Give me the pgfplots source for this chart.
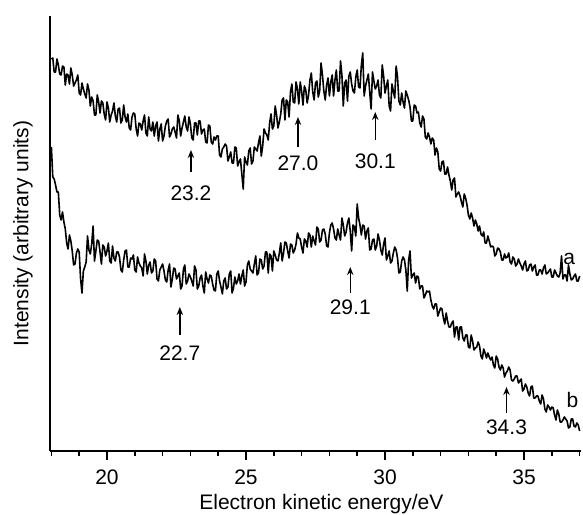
\documentclass[border=0pt]{standalone}
\usepackage{fontspec}
\setmainfont{Liberation Sans}
\usepackage{pgfplots}
\pgfplotsset{compat=1.18}
\usetikzlibrary{arrows.meta}
\newcommand\lab{\fontsize{10.5}{12.6}\selectfont}
\begin{document}
\begin{tikzpicture}
\useasboundingbox (-25pt,-31.5pt) rectangle (266.5pt,225.5pt);
\begin{axis}[name=ax, at={(0pt,0pt)}, anchor=south west,
  scale only axis, width=265.5pt, height=217.5pt,
  xmin=17.95, xmax=37.05, ymin=0, ymax=435,
  axis x line=bottom, axis y line=left,
  axis line style={-, line width=1pt},
  ytick=\empty, xtick={20,25,30,35}, minor xtick={18,19,...,37},
  tick align=outside, major tick length=4.5pt, minor tick length=2.5pt,
  tick style={line width=0.8pt, black},
  /pgf/number format/assume math mode=true,
  tick label style={font=\lab},
  xticklabel style={anchor=center, yshift=-8.75pt},
  xlabel={Electron kinetic energy/eV},
  ylabel={Intensity (arbitrary units)},
  xlabel style={font=\lab, at={(axis description cs:0.511,-0.1215)}, anchor=center},
  ylabel style={font=\lab, at={(axis description cs:-0.0508,0.5)}, anchor=center},
  clip=false]
\addplot[black, line width=0.8pt, line join=round] coordinates {
(18.0,392)(18.05,393)(18.1,379)(18.15,379)(18.2,392)(18.25,386)(18.3,377)(18.35,376)(18.4,385)(18.45,384)(18.5,366)(18.55,377)(18.6,376)(18.65,367)(18.7,383)(18.75,376)(18.8,365)(18.85,368)(18.9,371)(18.95,376)
(19.0,358)(19.05,356)(19.1,368)(19.15,362)(19.2,357)(19.25,353)(19.3,367)(19.35,361)(19.4,345)(19.45,354)(19.5,350)(19.55,336)(19.6,336)(19.65,356)(19.7,349)(19.75,338)(19.8,350)(19.85,348)(19.9,337)(19.95,331)
(20.0,349)(20.05,343)(20.1,329)(20.15,336)(20.2,340)(20.25,348)(20.3,335)(20.35,329)(20.4,342)(20.45,343)(20.5,328)(20.55,331)(20.6,346)(20.65,334)(20.7,329)(20.75,337)(20.8,323)(20.85,321)(20.9,334)(20.95,338)
(21.0,337)(21.05,322)(21.1,315)(21.15,328)(21.2,327)(21.25,321)(21.3,330)(21.35,336)(21.4,318)(21.45,315)(21.5,334)(21.55,322)(21.6,320)(21.65,329)(21.7,315)(21.75,325)(21.8,329)(21.85,310)(21.9,322)(21.95,327)
(22.0,310)(22.05,315)(22.1,325)(22.15,330)(22.2,332)(22.25,314)(22.3,317)(22.35,322)(22.4,324)(22.45,319)(22.5,313)(22.55,336)(22.6,330)(22.65,315)(22.7,323)(22.75,329)(22.8,335)(22.85,324)(22.9,320)(22.95,334)
(23.0,327)(23.05,313)(23.1,311)(23.15,328)(23.2,328)(23.25,316)(23.3,330)(23.35,330)(23.4,317)(23.45,321)(23.5,322)(23.55,309)(23.6,308)(23.65,326)(23.7,325)(23.75,309)(23.8,307)(23.85,314)(23.9,311)(23.95,315)
(24.0,315)(24.05,296)(24.1,294)(24.15,302)(24.2,304)(24.25,307)(24.3,305)(24.35,290)(24.4,294)(24.45,299)(24.5,288)(24.55,288)(24.6,304)(24.65,303)(24.7,285)(24.75,289)(24.8,292)(24.85,277)(24.9,262)(24.95,294)
(25.0,289)(25.05,286)(25.1,300)(25.15,303)(25.2,287)(25.25,290)(25.3,304)(25.35,302)(25.4,300)(25.45,308)(25.5,315)(25.55,295)(25.6,305)(25.65,322)(25.7,318)(25.75,316)(25.8,311)(25.85,328)(25.9,337)(25.95,322)
(26.0,325)(26.05,345)(26.1,336)(26.15,323)(26.2,329)(26.25,337)(26.3,351)(26.35,353)(26.4,331)(26.45,351)(26.5,349)(26.55,334)(26.6,359)(26.65,367)(26.7,349)(26.75,348)(26.8,369)(26.85,362)(26.9,347)(26.95,369)
(27.0,360)(27.05,346)(27.1,365)(27.15,361)(27.2,348)(27.25,356)(27.3,371)(27.35,378)(27.4,359)(27.45,351)(27.5,368)(27.55,370)(27.6,354)(27.65,360)(27.7,388)(27.75,376)(27.8,360)(27.85,351)(27.9,366)(27.95,373)
(28.0,355)(28.05,369)(28.1,376)(28.15,355)(28.2,371)(28.25,381)(28.3,360)(28.35,360)(28.4,390)(28.45,376)(28.5,345)(28.55,368)(28.6,371)(28.65,350)(28.7,375)(28.75,379)(28.8,367)(28.85,360)(28.9,358)(28.95,374)
(29.0,381)(29.05,364)(29.1,363)(29.15,386)(29.2,398)(29.25,355)(29.3,365)(29.35,371)(29.4,377)(29.45,359)(29.5,342)(29.55,379)(29.6,370)(29.65,362)(29.7,365)(29.75,371)(29.8,356)(29.85,353)(29.9,386)(29.95,375)
(30.0,358)(30.05,365)(30.1,371)(30.15,345)(30.2,340)(30.25,367)(30.3,360)(30.35,353)(30.4,385)(30.45,374)(30.5,350)(30.55,346)(30.6,358)(30.65,349)(30.7,343)(30.75,360)(30.8,356)(30.85,351)(30.9,344)(30.95,330)
(31.0,330)(31.05,346)(31.1,345)(31.15,338)(31.2,339)(31.25,328)(31.3,324)(31.35,335)(31.4,332)(31.45,314)(31.5,312)(31.55,318)(31.6,314)(31.65,307)(31.7,313)(31.75,311)(31.8,296)(31.85,303)(31.9,299)(31.95,282)
(32.0,280)(32.05,289)(32.1,290)(32.15,277)(32.2,277)(32.25,284)(32.3,276)(32.35,270)(32.4,261)(32.45,271)(32.5,273)(32.55,254)(32.6,257)(32.65,259)(32.7,255)(32.75,249)(32.8,244)(32.85,257)(32.9,253)(32.95,246)
(33.0,236)(33.05,232)(33.1,238)(33.15,233)(33.2,225)(33.25,231)(33.3,227)(33.35,220)(33.4,225)(33.45,217)(33.5,215)(33.55,219)(33.6,208)(33.65,208)(33.7,215)(33.75,210)(33.8,204)(33.85,205)(33.9,204)(33.95,195)
(34.0,197)(34.05,203)(34.1,202)(34.15,199)(34.2,191)(34.25,191)(34.3,197)(34.35,193)(34.4,194)(34.45,198)(34.5,189)(34.55,187)(34.6,194)(34.65,192)(34.7,185)(34.75,187)(34.8,192)(34.85,188)(34.9,185)(34.95,181)
(35.0,187)(35.05,190)(35.1,180)(35.15,181)(35.2,186)(35.25,187)(35.3,180)(35.35,184)(35.4,186)(35.45,176)(35.5,176)(35.55,181)(35.6,181)(35.65,177)(35.7,183)(35.75,186)(35.8,177)(35.85,178)(35.9,180)(35.95,182)
(36.0,174)(36.05,174)(36.1,181)(36.15,178)(36.2,175)(36.25,174)(36.3,178)(36.35,195)(36.4,172)(36.45,176)(36.5,176)(36.55,170)(36.6,186)(36.65,177)(36.7,171)(36.75,172)(36.8,175)(36.85,177)(36.9,170)(36.95,170)(37.0,175)};
\addplot[black, line width=0.8pt, line join=round] coordinates {
(18.0,304)(18.05,274)(18.1,272)(18.15,266)(18.2,259)(18.25,259)(18.3,236)(18.35,231)(18.4,239)(18.45,229)(18.5,222)(18.55,208)(18.6,202)(18.65,216)(18.7,210)(18.75,200)(18.8,186)(18.85,187)(18.9,198)(18.95,202)
(19.0,199)(19.05,172)(19.1,158)(19.15,180)(19.2,184)(19.25,189)(19.3,215)(19.35,201)(19.4,197)(19.45,207)(19.5,225)(19.55,190)(19.6,200)(19.65,211)(19.7,210)(19.75,199)(19.8,187)(19.85,206)(19.9,204)(19.95,195)
(20.0,200)(20.05,208)(20.1,190)(20.15,188)(20.2,205)(20.25,193)(20.3,190)(20.35,199)(20.4,199)(20.45,194)(20.5,181)(20.55,179)(20.6,191)(20.65,200)(20.7,201)(20.75,184)(20.8,184)(20.85,193)(20.9,192)(20.95,196)
(21.0,181)(21.05,179)(21.1,194)(21.15,188)(21.2,185)(21.25,183)(21.3,175)(21.35,197)(21.4,190)(21.45,177)(21.5,186)(21.55,189)(21.6,178)(21.65,180)(21.7,192)(21.75,190)(21.8,172)(21.85,170)(21.9,181)(21.95,184)
(22.0,187)(22.05,180)(22.1,171)(22.15,169)(22.2,181)(22.25,187)(22.3,164)(22.35,172)(22.4,183)(22.45,182)(22.5,172)(22.55,175)(22.6,178)(22.65,162)(22.7,165)(22.75,182)(22.8,186)(22.85,167)(22.9,170)(22.95,177)
(23.0,174)(23.05,170)(23.1,165)(23.15,185)(23.2,181)(23.25,162)(23.3,165)(23.35,173)(23.4,176)(23.45,165)(23.5,158)(23.55,179)(23.6,172)(23.65,168)(23.7,176)(23.75,175)(23.8,167)(23.85,161)(23.9,160)(23.95,177)
(24.0,180)(24.05,170)(24.1,164)(24.15,157)(24.2,170)(24.25,173)(24.3,162)(24.35,164)(24.4,177)(24.45,180)(24.5,158)(24.55,163)(24.6,174)(24.65,167)(24.7,170)(24.75,177)(24.8,167)(24.85,175)(24.9,181)(24.95,165)
(25.0,169)(25.05,186)(25.1,190)(25.15,182)(25.2,180)(25.25,178)(25.3,187)(25.35,195)(25.4,176)(25.45,178)(25.5,192)(25.55,191)(25.6,182)(25.65,185)(25.7,199)(25.75,199)(25.8,178)(25.85,197)(25.9,195)(25.95,180)
(26.0,200)(26.05,196)(26.1,191)(26.15,190)(26.2,198)(26.25,208)(26.3,190)(26.35,198)(26.4,209)(26.45,208)(26.5,200)(26.55,193)(26.6,207)(26.65,206)(26.7,198)(26.75,201)(26.8,207)(26.85,218)(26.9,213)(26.95,212)
(27.0,204)(27.05,198)(27.1,212)(27.15,210)(27.2,204)(27.25,218)(27.3,216)(27.35,204)(27.4,215)(27.45,210)(27.5,206)(27.55,224)(27.6,222)(27.65,209)(27.7,211)(27.75,221)(27.8,222)(27.85,217)(27.9,205)(27.95,204)
(28.0,218)(28.05,226)(28.1,228)(28.15,222)(28.2,213)(28.25,211)(28.3,222)(28.35,216)(28.4,211)(28.45,233)(28.5,226)(28.55,215)(28.6,219)(28.65,228)(28.7,233)(28.75,220)(28.8,200)(28.85,226)(28.9,224)(28.95,215)
(29.0,247)(29.05,233)(29.1,226)(29.15,216)(29.2,226)(29.25,225)(29.3,212)(29.35,220)(29.4,223)(29.45,201)(29.5,202)(29.55,211)(29.6,212)(29.65,201)(29.7,205)(29.75,217)(29.8,211)(29.85,201)(29.9,196)(29.95,207)
(30.0,213)(30.05,191)(30.1,195)(30.15,200)(30.2,188)(30.25,190)(30.3,198)(30.35,204)(30.4,201)(30.45,193)(30.5,178)(30.55,179)(30.6,190)(30.65,194)(30.7,191)(30.75,181)(30.8,160)(30.85,191)(30.9,200)(30.95,173)
(31.0,176)(31.05,178)(31.1,168)(31.15,175)(31.2,174)(31.25,162)(31.3,165)(31.35,165)(31.4,153)(31.45,156)(31.5,160)(31.55,159)(31.6,160)(31.65,151)(31.7,145)(31.75,142)(31.8,147)(31.85,147)(31.9,135)(31.95,139)
(32.0,143)(32.05,142)(32.1,133)(32.15,127)(32.2,138)(32.25,130)(32.3,124)(32.35,124)(32.4,128)(32.45,130)(32.5,114)(32.55,124)(32.6,124)(32.65,111)(32.7,124)(32.75,124)(32.8,113)(32.85,110)(32.9,116)(32.95,116)
(33.0,104)(33.05,103)(33.1,116)(33.15,110)(33.2,101)(33.25,103)(33.3,104)(33.35,109)(33.4,105)(33.45,95)(33.5,92)(33.55,102)(33.6,98)(33.65,93)(33.7,98)(33.75,94)(33.8,91)(33.85,94)(33.9,86)(33.95,83)
(34.0,95)(34.05,92)(34.1,84)(34.15,81)(34.2,86)(34.25,83)(34.3,74)(34.35,78)(34.4,80)(34.45,84)(34.5,81)(34.55,71)(34.6,70)(34.65,72)(34.7,75)(34.75,75)(34.8,68)(34.85,70)(34.9,72)(34.95,60)
(35.0,62)(35.05,67)(35.1,64)(35.15,58)(35.2,55)(35.25,64)(35.3,65)(35.35,53)(35.4,53)(35.45,55)(35.5,55)(35.55,50)(35.6,47)(35.65,56)(35.7,52)(35.75,42)(35.8,39)(35.85,46)(35.9,44)(35.95,41)
(36.0,44)(36.05,43)(36.1,36)(36.15,31)(36.2,41)(36.25,37)(36.3,29)(36.35,29)(36.4,31)(36.45,34)(36.5,32)(36.55,30)(36.6,23)(36.65,24)(36.7,32)(36.75,32)(36.8,25)(36.85,24)(36.9,28)(36.95,26)(37.0,20)};
\tikzset{ann/.style={-{Stealth[length=4pt,width=3.2pt]}, line width=0.7pt}}
\draw[ann] (axis cs:23.02,279) -- (axis cs:23.02,301);
\node[font=\lab] at (axis cs:23.02,258) {23.2};
\draw[ann] (axis cs:26.87,304) -- (axis cs:26.87,334);
\node[font=\lab] at (axis cs:26.87,288) {27.0};
\draw[ann] (axis cs:29.65,311) -- (axis cs:29.65,339);
\node[font=\lab] at (axis cs:29.65,290) {30.1};
\draw[ann] (axis cs:22.62,116) -- (axis cs:22.62,144);
\node[font=\lab] at (axis cs:22.62,98) {22.7};
\draw[ann] (axis cs:28.75,158) -- (axis cs:28.75,184);
\node[font=\lab] at (axis cs:28.75,144) {29.1};
\draw[ann] (axis cs:34.37,38) -- (axis cs:34.37,64);
\node[font=\lab] at (axis cs:34.37,24) {34.3};
\node[font=\lab] at (axis cs:36.63,192) {a};
\node[font=\lab] at (axis cs:36.74,51) {b};
\end{axis}
\end{tikzpicture}
\end{document}
